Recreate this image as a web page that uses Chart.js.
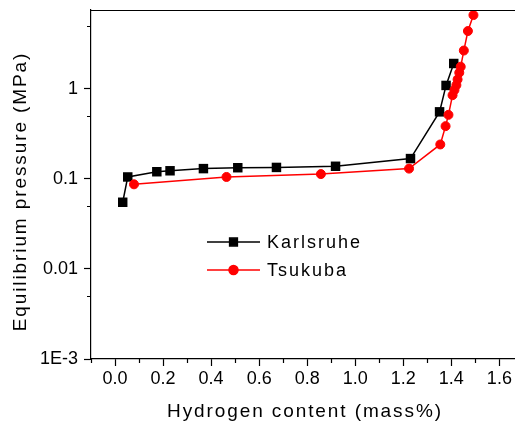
<!DOCTYPE html>
<html>
<head>
<meta charset="utf-8">
<script src="https://cdn.jsdelivr.net/npm/chart.js@4/dist/chart.umd.min.js"></script>
<style>
  html, body { margin: 0; padding: 0; background: #fff; }
  #wrap { width: 515px; height: 427px; position: relative; }
</style>
</head>
<body>
<div id="wrap"><canvas id="c"></canvas></div>
<script>
// Hydrogen content (mass%) and equilibrium pressure (MPa)
const karlsruheX = [0.032, 0.053, 0.174, 0.229, 0.368, 0.511, 0.672, 0.918, 1.230, 1.351, 1.378, 1.410];
const karlsruheP = [0.055, 0.105, 0.120, 0.123, 0.130, 0.133, 0.134, 0.138, 0.168, 0.555, 1.09, 1.91];

const tsukubaX = [0.079, 0.464, 0.857, 1.224, 1.354, 1.376, 1.388, 1.405, 1.413, 1.421, 1.426, 1.433, 1.439, 1.452, 1.469, 1.492];
const tsukubaP = [0.087, 0.105, 0.113, 0.130, 0.241, 0.385, 0.514, 0.85, 0.97, 1.10, 1.27, 1.51, 1.76, 2.66, 4.38, 6.59];

const seriesNames = ['Karlsruhe', 'Tsukuba'];

const xTicks = [0.0, 0.2, 0.4, 0.6, 0.8, 1.0, 1.2, 1.4, 1.6];
const xMinorTicks = [-0.1, 0.1, 0.3, 0.5, 0.7, 0.9, 1.1, 1.3, 1.5];
const yTicks = [0.001, 0.01, 0.1, 1];
const yTickLabels = ['1E-3', '0.01', '0.1', '1'];
const yMinorTicks = [0.005, 0.05, 0.5, 5];

const FONT = "'Liberation Sans', Arial, Helvetica, sans-serif";
Chart.defaults.font.family = FONT;
Chart.defaults.color = '#000';

const toPoints = (xs, ys) => xs.map((x, i) => ({ x, y: ys[i] }));

// Axis titles are drawn with a little extra letter spacing;
// the vertical title sits slightly below the axis centre
const titleShift = { x: [2, 0], y: [0, 7] };
const spacedTitles = {
  id: 'spacedTitles',
  beforeDraw(chart) {
    Object.values(chart.scales).forEach(s => {
      if (s.__spaced) return;
      const orig = s.drawTitle.bind(s);
      const shift = titleShift[s.id] || [0, 0];
      s.drawTitle = function () {
        const ctx = this.ctx;
        ctx.save();
        ctx.translate(shift[0], shift[1]);
        try { ctx.letterSpacing = '1.9px'; } catch (e) {}
        orig();
        ctx.restore();
      };
      s.__spaced = true;
    });
  }
};

// Short minor ticks, top frame line and the in-plot legend
const extras = {
  id: 'extras',
  afterDraw(chart) {
    const ctx = chart.ctx;
    const xs = chart.scales.x, ys = chart.scales.y;
    const area = chart.chartArea;
    ctx.save();
    ctx.strokeStyle = '#000';
    ctx.lineWidth = 1.2;
    ctx.beginPath();
    xMinorTicks.forEach(v => {
      const px = Math.round(xs.getPixelForValue(v)) + 0.5;
      ctx.moveTo(px, area.bottom);
      ctx.lineTo(px, area.bottom + 4);
    });
    yMinorTicks.forEach(v => {
      const py = Math.round(ys.getPixelForValue(v)) + 0.5;
      ctx.moveTo(area.left, py);
      ctx.lineTo(area.left - 4, py);
    });
    ctx.moveTo(area.left, area.top + 0.5);
    ctx.lineTo(chart.width, area.top + 0.5);
    ctx.stroke();

    // legend
    const rows = [242, 270];
    chart.data.datasets.forEach((ds, i) => {
      const y = rows[i];
      ctx.strokeStyle = ds.borderColor;
      ctx.lineWidth = ds.borderWidth;
      ctx.beginPath();
      ctx.moveTo(207, y);
      ctx.lineTo(260, y);
      ctx.stroke();
      ctx.fillStyle = ds.pointBackgroundColor;
      ctx.strokeStyle = ds.pointBorderColor;
      Chart.helpers.drawPoint(ctx, {
        pointStyle: ds.pointStyle,
        radius: ds.pointStyle === 'rect' ? 5.5 : 4.5,
        rotation: 0,
        borderWidth: 1
      }, 233.5, y);
      ctx.fillStyle = '#000';
      ctx.font = '18px ' + FONT;
      ctx.textAlign = 'left';
      ctx.textBaseline = 'middle';
      try { ctx.letterSpacing = '2px'; } catch (e) {}
      ctx.fillText(ds.label, 267, y + 1);
      try { ctx.letterSpacing = '0px'; } catch (e) {}
    });
    ctx.restore();
  }
};

new Chart(document.getElementById('c'), {
  type: 'line',
  data: {
    datasets: [
      {
        label: seriesNames[0],
        data: toPoints(karlsruheX, karlsruheP),
        borderColor: '#000',
        backgroundColor: '#000',
        pointBackgroundColor: '#000',
        pointBorderColor: '#000',
        borderWidth: 1.5,
        pointStyle: 'rect',
        pointRadius: 6.7,
        pointBorderWidth: 0,
        order: 1,
        tension: 0
      },
      {
        label: seriesNames[1],
        data: toPoints(tsukubaX, tsukubaP),
        borderColor: '#ff0000',
        backgroundColor: '#ff0000',
        pointBackgroundColor: '#ff0000',
        pointBorderColor: '#ff0000',
        borderWidth: 1.5,
        pointStyle: 'circle',
        pointRadius: 4.5,
        pointBorderWidth: 1,
        order: 0,
        tension: 0
      }
    ]
  },
  options: {
    responsive: true,
    maintainAspectRatio: false,
    animation: false,
    devicePixelRatio: 1,
    layout: { autoPadding: false, padding: { top: 10, right: 0, left: 0, bottom: 0 } },
    plugins: {
      legend: { display: false },
      tooltip: { enabled: false }
    },
    scales: {
      x: {
        type: 'linear',
        position: 'bottom',
        min: -0.1,
        max: 1.665,
        afterBuildTicks: s => { s.ticks = xTicks.map(v => ({ value: v })); },
        afterFit: s => { s.height = 68; s.paddingLeft = 0; s.paddingRight = 0; },
        ticks: {
          color: '#000',
          font: { size: 18 },
          padding: 2,
          maxRotation: 0,
          autoSkip: false,
          callback: v => Number(v).toFixed(1)
        },
        grid: { display: true, drawOnChartArea: false, drawTicks: true, tickLength: 7, tickColor: '#000', tickWidth: 1.2 },
        border: { display: true, color: '#000', width: 1.2 },
        title: {
          display: true,
          text: 'Hydrogen content (mass%)',
          color: '#000',
          font: { size: 19 },
          padding: { top: 0, bottom: 4 }
        }
      },
      y: {
        type: 'logarithmic',
        position: 'left',
        min: 0.001,
        max: 7.5,
        afterBuildTicks: s => { s.ticks = yTicks.map(v => ({ value: v })); },
        afterFit: s => { s.width = 91; s.paddingTop = 0; s.paddingBottom = 0; },
        ticks: {
          color: '#000',
          font: { size: 18 },
          padding: 6,
          autoSkip: false,
          callback: (v, i) => yTickLabels[i]
        },
        grid: { display: true, drawOnChartArea: false, drawTicks: true, tickLength: 7, tickColor: '#000', tickWidth: 1.2 },
        border: { display: true, color: '#000', width: 1.2 },
        title: {
          display: true,
          text: 'Equilibrium pressure (MPa)',
          color: '#000',
          font: { size: 19 },
          padding: { top: 9.6, bottom: 0 }
        }
      }
    }
  },
  plugins: [spacedTitles, extras]
});
</script>
</body>
</html>
